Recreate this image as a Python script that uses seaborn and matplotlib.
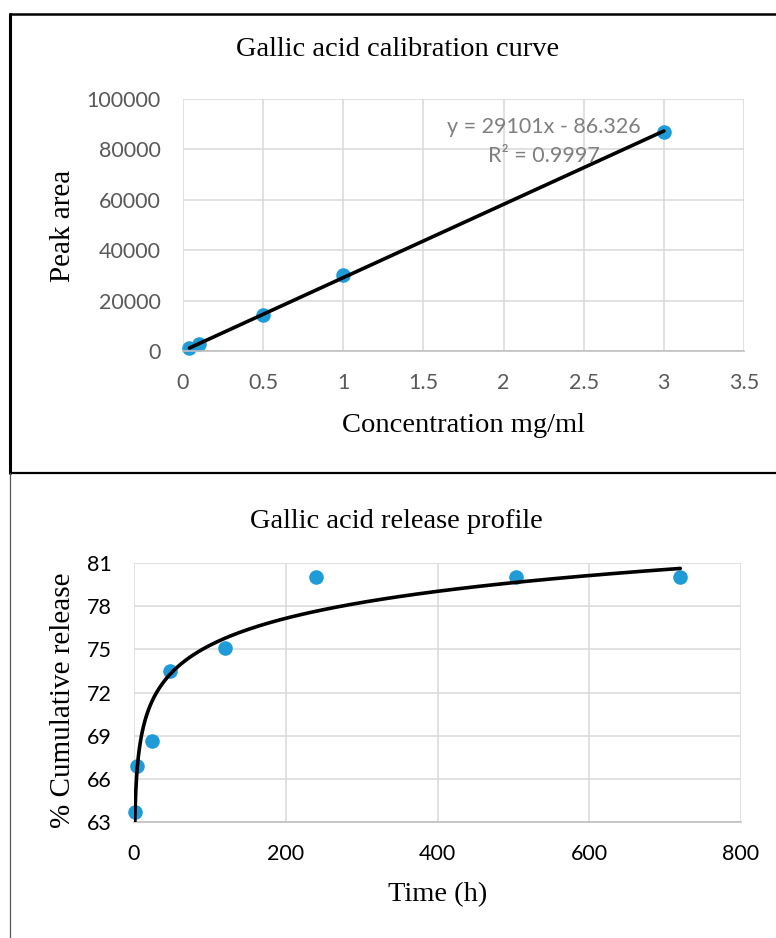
import matplotlib.pyplot as plt
import seaborn as sns
import numpy as np
import pandas as pd
from matplotlib.lines import Line2D
from matplotlib.ticker import FuncFormatter

sns.set_theme(style="whitegrid")
plt.rcParams['font.family'] = ['Lato', 'DejaVu Sans']

SERIF = 'Liberation Serif'
DOT_BLUE = '#1f9bd7'
GRID_GREY = '#d9d9d9'
AXIS_GREY = '#bfbfbf'

# calibration points
conc = [0.04, 0.1, 0.5, 1, 3]
peak_area = [1000, 2600, 14300, 30200, 87000]
fit_label = ["y = 29101x - 86.326", "R\u00b2 = 0.9997"]
conc_ticks = [0, 0.5, 1, 1.5, 2, 2.5, 3, 3.5]
area_ticks = [0, 20000, 40000, 60000, 80000, 100000]

# release points
time_h = [1, 4, 24, 48, 120, 240, 504, 720]
release = [63.7, 66.9, 68.6, 73.5, 75.1, 80.0, 80.0, 80.0]
time_ticks = [0, 200, 400, 600, 800]
release_ticks = [63, 66, 69, 72, 75, 78, 81]

W, H = 776, 938
fig = plt.figure(figsize=(W / 100, H / 100), dpi=100)


def fx(px):
    return px / W


def fy(py):
    return 1 - py / H


def style_axes(ax, tick_color):
    for side in ['top', 'right', 'left']:
        ax.spines[side].set_visible(False)
    ax.spines['bottom'].set_color(AXIS_GREY)
    ax.spines['bottom'].set_linewidth(1.2)
    ax.grid(True, color=GRID_GREY, linewidth=1.1)
    ax.set_axisbelow(True)
    ax.set_facecolor('white')
    ax.tick_params(axis='both', length=0, labelsize=15.5, colors=tick_color)
    ax.tick_params(axis='x', pad=16)
    ax.tick_params(axis='y', pad=16)
    ax.set_xlabel('')
    ax.set_ylabel('')


# chart frames (top box, left rule below)
fig.add_artist(Line2D([fx(10), fx(10)], [fy(14), fy(473)], color='black', lw=2.2))
fig.add_artist(Line2D([fx(10), 1], [fy(14), fy(14)], color='black', lw=1.8))
fig.add_artist(Line2D([fx(10), 1], [fy(473), fy(473)], color='black', lw=1.6))
fig.add_artist(Line2D([fx(10), fx(10)], [fy(473), 0], color='#555555', lw=0.9))

# calibration curve
ax1 = fig.add_axes([fx(183), fy(351), fx(744 - 183), (351 - 99) / H])
cal = pd.DataFrame({'conc': conc, 'area': peak_area})
sns.regplot(data=cal, x='conc', y='area', ax=ax1, ci=None, truncate=True,
            scatter_kws={'s': 110, 'color': DOT_BLUE, 'alpha': 1, 'linewidths': 0, 'clip_on': False},
            line_kws={'color': 'black', 'lw': 2.6})
ax1.set_xlim(0, 3.5)
ax1.set_ylim(0, 100000)
ax1.set_xticks(conc_ticks)
ax1.set_yticks(area_ticks)
ax1.xaxis.set_major_formatter(FuncFormatter(lambda v, p: f"{v:g}"))
style_axes(ax1, '#595959')
ax1.text(fx(544), fy(127), fit_label[0], transform=fig.transFigure, ha='center', va='center',
         fontsize=15.5, color='#7f7f7f')
ax1.text(fx(544), fy(156), fit_label[1], transform=fig.transFigure, ha='center', va='center',
         fontsize=15.5, color='#7f7f7f')

fig.text(fx(398), fy(50), 'Gallic acid calibration curve', ha='center', va='center',
         fontsize=20.5, family=SERIF, color='black')
fig.text(fx(463), fy(425), 'Concentration mg/ml', ha='center', va='center',
         fontsize=20.5, family=SERIF, color='black')
fig.text(fx(63), fy(226), 'Peak area', ha='center', va='center', rotation=90,
         fontsize=21, family=SERIF, color='black')

# release profile with logarithmic trendline
ax2 = fig.add_axes([fx(134), fy(822), fx(741 - 134), (822 - 563) / H])
rel = pd.DataFrame({'time': time_h, 'release': release})
sns.scatterplot(data=rel, x='time', y='release', ax=ax2, s=110, color=DOT_BLUE,
                linewidth=0, clip_on=False, zorder=3)
slope, icpt = np.polyfit(np.log(rel['time']), rel['release'], 1)
t_fit = np.geomspace(rel['time'].min(), rel['time'].max(), 300)
ax2.plot(t_fit, slope * np.log(t_fit) + icpt, color='black', lw=2.6, zorder=4)
ax2.set_xlim(0, 800)
ax2.set_ylim(63, 81)
ax2.set_xticks(time_ticks)
ax2.set_yticks(release_ticks)
style_axes(ax2, 'black')

fig.text(fx(396), fy(521), 'Gallic acid release profile', ha='center', va='center',
         fontsize=20.5, family=SERIF, color='black')
fig.text(fx(438), fy(895), 'Time (h)', ha='center', va='center',
         fontsize=20.5, family=SERIF, color='black')
fig.text(fx(63), fy(700), '% Cumulative release', ha='center', va='center', rotation=90,
         fontsize=21, family=SERIF, color='black')

plt.savefig('out.png', dpi=100, facecolor='white')
plt.close()
